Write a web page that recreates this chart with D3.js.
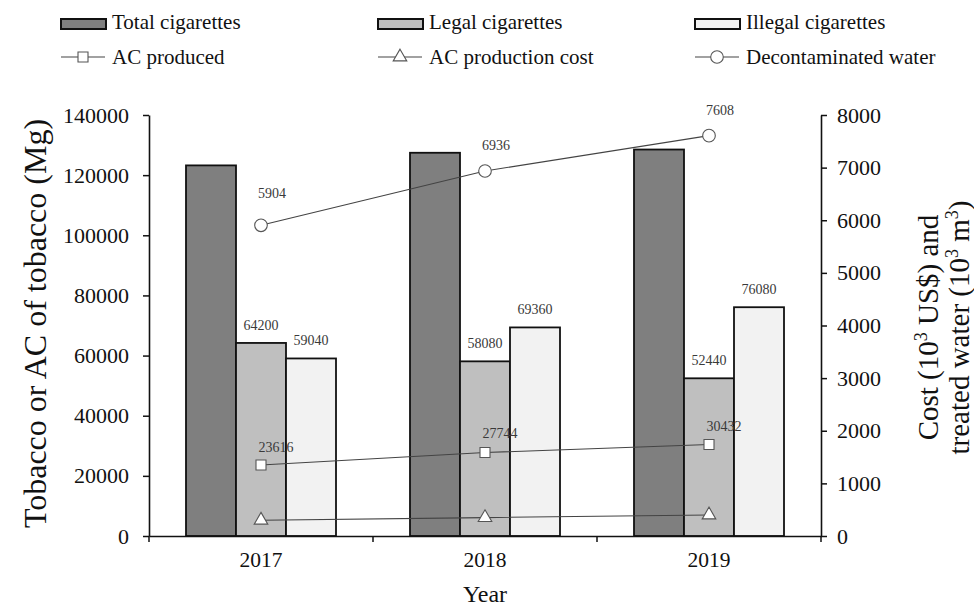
<!DOCTYPE html>
<html>
<head>
<meta charset="utf-8">
<script src="https://cdn.jsdelivr.net/npm/d3@7/dist/d3.min.js"></script>
<style>
  html, body { margin: 0; padding: 0; background: #fff; }
  svg { display: block; font-family: "Liberation Serif", "Times New Roman", serif; }
</style>
</head>
<body>
<svg id="chart" width="974" height="606"></svg>
<script>
// Cigarette volumes per year (Mg)
const years = ["2017", "2018", "2019"];
const legalCigarettes = [64200, 58080, 52440];
const illegalCigarettes = [59040, 69360, 76080];
const totalCigarettes = [123240, 127440, 128520];

// Activated carbon (AC) produced from illegal tobacco (Mg, left axis)
const acProduced = [23616, 27744, 30432];
// AC production cost (10^3 US$, right axis)
const acProductionCost = [300, 350, 400];
// Decontaminated water (10^3 m^3, right axis)
const decontaminatedWater = [5904, 6936, 7608];

// Axis ticks
const leftTicks = [0, 20000, 40000, 60000, 80000, 100000, 120000, 140000];
const rightTicks = [0, 1000, 2000, 3000, 4000, 5000, 6000, 7000, 8000];

// Extra lift (px) for individual value labels on the lines
const waterLabelLift = [6, 0, 0];
const acLabelLift = [0, 2, 0];

const svg = d3.select("#chart");
const plotLeft = 149, plotRight = 821, plotTop = 115, plotBottom = 536;

const x = d3.scaleBand().domain(years).range([plotLeft, plotRight]).paddingInner(0).paddingOuter(0);
const barKeys = ["total", "legal", "illegal"];
const groupPad = (x.bandwidth() - 150) / 2;
const xInner = d3.scaleBand().domain(barKeys).range([groupPad, x.bandwidth() - groupPad]);
const yL = d3.scaleLinear().domain([0, 140000]).range([plotBottom, plotTop]);
const yR = d3.scaleLinear().domain([0, 8000]).range([plotBottom, plotTop]);

const barSeries = [
  { key: "total", name: "Total cigarettes", values: totalCigarettes, fill: "#7f7f7f", label: false },
  { key: "legal", name: "Legal cigarettes", values: legalCigarettes, fill: "#bfbfbf", label: true },
  { key: "illegal", name: "Illegal cigarettes", values: illegalCigarettes, fill: "#f2f2f2", label: true }
];

// Bars
barSeries.forEach(s => {
  const g = svg.append("g");
  g.selectAll("rect").data(years).join("rect")
    .attr("x", (d) => x(d) + xInner(s.key))
    .attr("y", (d, i) => yL(s.values[i]))
    .attr("width", xInner.bandwidth())
    .attr("height", (d, i) => yL(0) - yL(s.values[i]))
    .attr("fill", s.fill)
    .attr("stroke", "#111")
    .attr("stroke-width", 1.8);
  if (s.label) {
    g.selectAll("text").data(years).join("text")
      .attr("x", (d) => x(d) + xInner(s.key) + xInner.bandwidth() / 2)
      .attr("y", (d, i) => yL(s.values[i]) - 13)
      .attr("text-anchor", "middle")
      .attr("font-size", 14)
      .attr("fill", "#3a3a3a")
      .text((d, i) => s.values[i]);
  }
});

// Axes
const axisColor = "#111";
const gL = svg.append("g").attr("transform", `translate(${plotLeft},0)`)
  .call(d3.axisLeft(yL).tickValues(leftTicks).tickSize(6).tickSizeOuter(0).tickPadding(14).tickFormat(d3.format("d")));
const gR = svg.append("g").attr("transform", `translate(${plotRight},0)`)
  .call(d3.axisRight(yR).tickValues(rightTicks).tickSize(6).tickSizeOuter(0).tickPadding(10).tickFormat(d3.format("d")));
const gX = svg.append("g").attr("transform", `translate(0,${plotBottom})`)
  .call(d3.axisBottom(x).tickSize(0).tickPadding(16).tickSizeOuter(0));
// tick marks at category boundaries
const bounds = years.map(d => x(d)).concat([x(years[years.length - 1]) + x.bandwidth()]);
gX.selectAll("line.bound").data(bounds).join("line")
  .attr("class", "bound")
  .attr("x1", d => d).attr("x2", d => d)
  .attr("y1", 0).attr("y2", 6)
  .attr("stroke", axisColor).attr("stroke-width", 1.5);

[gL, gR, gX].forEach(g => {
  g.selectAll(".domain").attr("stroke", axisColor).attr("stroke-width", 1.6);
  g.selectAll(".tick line").attr("stroke", axisColor).attr("stroke-width", 1.5);
  g.selectAll(".tick text").attr("font-size", 22).attr("fill", "#111")
    .attr("font-family", "'Liberation Serif', 'Times New Roman', serif");
});
gX.selectAll(".tick text").attr("font-size", 21.5);

// Lines with markers
const lineSeries = [
  { name: "AC produced", values: acProduced, y: yL, symbol: d3.symbolSquare, size: 100, label: true, dx: 15, dy: -13, lift: acLabelLift },
  { name: "AC production cost", values: acProductionCost, y: yR, symbol: d3.symbolTriangle, size: 80, label: false },
  { name: "Decontaminated water", values: decontaminatedWater, y: yR, symbol: d3.symbolCircle, size: 125, label: true, dx: 11, dy: -21, lift: waterLabelLift }
];
const cx = d => x(d) + x.bandwidth() / 2;
lineSeries.forEach(s => {
  const g = svg.append("g");
  const line = d3.line().x(d => cx(d)).y((d, i) => s.y(s.values[i]));
  g.append("path").datum(years)
    .attr("d", line)
    .attr("fill", "none")
    .attr("stroke", "#444")
    .attr("stroke-width", 1.1);
  g.selectAll("path.mk").data(years).join("path")
    .attr("class", "mk")
    .attr("d", d3.symbol(s.symbol, s.size))
    .attr("transform", (d, i) => `translate(${cx(d)},${s.y(s.values[i])})`)
    .attr("fill", "#fff")
    .attr("stroke", "#555")
    .attr("stroke-width", 1.1);
  if (s.label) {
    g.selectAll("text").data(years).join("text")
      .attr("x", d => cx(d) + s.dx)
      .attr("y", (d, i) => s.y(s.values[i]) + s.dy - s.lift[i])
      .attr("text-anchor", "middle")
      .attr("font-size", 14)
      .attr("fill", "#3a3a3a")
      .text((d, i) => s.values[i]);
  }
});

// Axis titles
svg.append("text")
  .attr("transform", `translate(46,${(plotTop + plotBottom) / 2 - 2}) rotate(-90)`)
  .attr("text-anchor", "middle")
  .attr("font-size", 32).attr("fill", "#111")
  .text("Tobacco or AC of tobacco (Mg)");

const rt = svg.append("text")
  .attr("transform", `translate(938,${(plotTop + plotBottom) / 2 + 2}) rotate(-90)`)
  .attr("text-anchor", "middle")
  .attr("font-size", 29).attr("fill", "#111");
const l1 = rt.append("tspan").attr("x", 0).attr("dy", 0);
l1.append("tspan").text("Cost (10");
l1.append("tspan").attr("font-size", 18).attr("dy", -11).text("3");
l1.append("tspan").attr("dy", 11).text(" US$) and");
const l2 = rt.append("tspan").attr("x", 0).attr("dy", 31);
l2.append("tspan").text("treated water (10");
l2.append("tspan").attr("font-size", 18).attr("dy", -11).text("3");
l2.append("tspan").attr("dy", 11).text(" m");
l2.append("tspan").attr("font-size", 18).attr("dy", -11).text("3");
l2.append("tspan").attr("dy", 11).text(")");

svg.append("text")
  .attr("x", (plotLeft + plotRight) / 2).attr("y", 602)
  .attr("text-anchor", "middle")
  .attr("font-size", 24).attr("fill", "#111")
  .text("Year");

// Legend
const legendCols = [61, 378, 695];
const legend = svg.append("g");
barSeries.forEach((s, i) => {
  const g = legend.append("g").attr("transform", `translate(${legendCols[i]},0)`);
  g.append("rect").attr("x", 0).attr("y", 19).attr("width", 45).attr("height", 10)
    .attr("fill", s.fill).attr("stroke", "#111").attr("stroke-width", 2);
  g.append("text").attr("x", 51).attr("y", 29).attr("font-size", 21).attr("fill", "#111").text(s.name);
});
lineSeries.forEach((s, i) => {
  const g = legend.append("g").attr("transform", `translate(${legendCols[i]},0)`);
  g.append("line").attr("x1", 0).attr("x2", 44).attr("y1", 57).attr("y2", 57)
    .attr("stroke", "#444").attr("stroke-width", 1.1);
  g.append("path").attr("d", d3.symbol(s.symbol, s.size))
    .attr("transform", `translate(22,57)`)
    .attr("fill", "#fff").attr("stroke", "#555").attr("stroke-width", 1.1);
  g.append("text").attr("x", 51).attr("y", 64).attr("font-size", 21).attr("fill", "#111").text(s.name);
});
</script>
</body>
</html>
